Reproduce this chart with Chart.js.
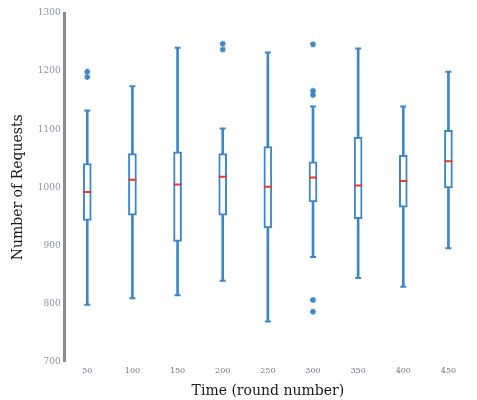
<!DOCTYPE html>
<html>
<head>
<meta charset="utf-8">
<script src="https://cdn.jsdelivr.net/npm/chart.js@4/dist/chart.umd.min.js"></script>
<style>
html,body{margin:0;padding:0;background:#fff;}
#wrap{width:477px;height:400px;}
</style>
</head>
<body>
<div id="wrap"><canvas id="c"></canvas></div>
<script>
const categories = ['50','100','150','200','250','300','350','400','450'];
const mins    = [798, 809, 814, 839, 769, 880, 844, 829, 895];
const q1s     = [943, 952, 907, 952, 930, 975, 946, 966, 999];
const medians = [992, 1013, 1005, 1018, 1001, 1017, 1003, 1011, 1045];
const q3s     = [1041, 1058, 1061, 1058, 1070, 1044, 1086, 1055, 1098];
const maxs    = [1132, 1174, 1240, 1101, 1232, 1139, 1239, 1139, 1199];
const outlierCats = ['50','50','200','200','300','300','300','300','300'];
const outlierVals = [1199, 1190, 1247, 1237, 1246, 1166, 1159, 806, 786];
const yTicks = [700, 800, 900, 1000, 1100, 1200, 1300];

const BLUE = '#3d87c6';
const RED = '#e53a2f';

const whiskers = categories.map((c, i) => [mins[i], maxs[i]]);
const boxes = categories.map((c, i) => [q1s[i], q3s[i]]);
const outliers = outlierCats.map((c, i) => ({x: c, y: outlierVals[i]}));

new Chart(document.getElementById('c'), {
  type: 'bar',
  data: {
    labels: categories,
    datasets: [
      {type:'bar', data: whiskers, grouped:false, barThickness:2, backgroundColor:BLUE, borderWidth:0, order:3},
      {type:'bar', data: boxes, grouped:false, barThickness:8, backgroundColor:'#ffffff', borderColor:BLUE, borderWidth:2, borderSkipped:false, order:2},
      {type:'line', data: medians, showLine:false, pointStyle:'line', pointRadius:4, borderColor:RED, borderWidth:2, order:0},
      {type:'line', data: maxs, showLine:false, pointStyle:'line', pointRadius:3, borderColor:BLUE, borderWidth:2, order:1},
      {type:'line', data: mins, showLine:false, pointStyle:'line', pointRadius:3, borderColor:BLUE, borderWidth:2, order:1},
      {type:'line', data: outliers, showLine:false, pointStyle:'star', pointRadius:3, borderColor:BLUE, backgroundColor:BLUE, borderWidth:1.5, order:1}
    ]
  },
  options: {
    responsive:true,
    maintainAspectRatio:false,
    animation:false,
    events:[],
    layout:{padding:{left:10, top:13, right:5, bottom:0}},
    plugins:{legend:{display:false}, tooltip:{enabled:false}},
    scales:{
      x:{
        offset:true,
        grid:{display:false, drawTicks:false},
        border:{display:false},
        ticks:{color:'#6f7488', font:{family:'DejaVu Serif', size:8}, padding:5, maxRotation:0},
        title:{display:true, text:'Time (round number)', color:'#1a1a1a', font:{family:'DejaVu Serif', size:14}, padding:{top:2, bottom:0}}
      },
      y:{
        min:700, max:1300,
        afterBuildTicks: (s) => { s.ticks = yTicks.map(v => ({value:v})); },
        grid:{display:false, drawTicks:false},
        border:{display:true, color:'#8c8c8c', width:3},
        ticks:{color:'#8a90a8', font:{family:'DejaVu Serif', size:9}, padding:4, callback:(v) => String(v)},
        title:{display:true, text:'Number of Requests', color:'#1a1a1a', font:{family:'DejaVu Serif', size:14}, padding:{top:0, bottom:7}}
      }
    }
  }
});
</script>
</body>
</html>
